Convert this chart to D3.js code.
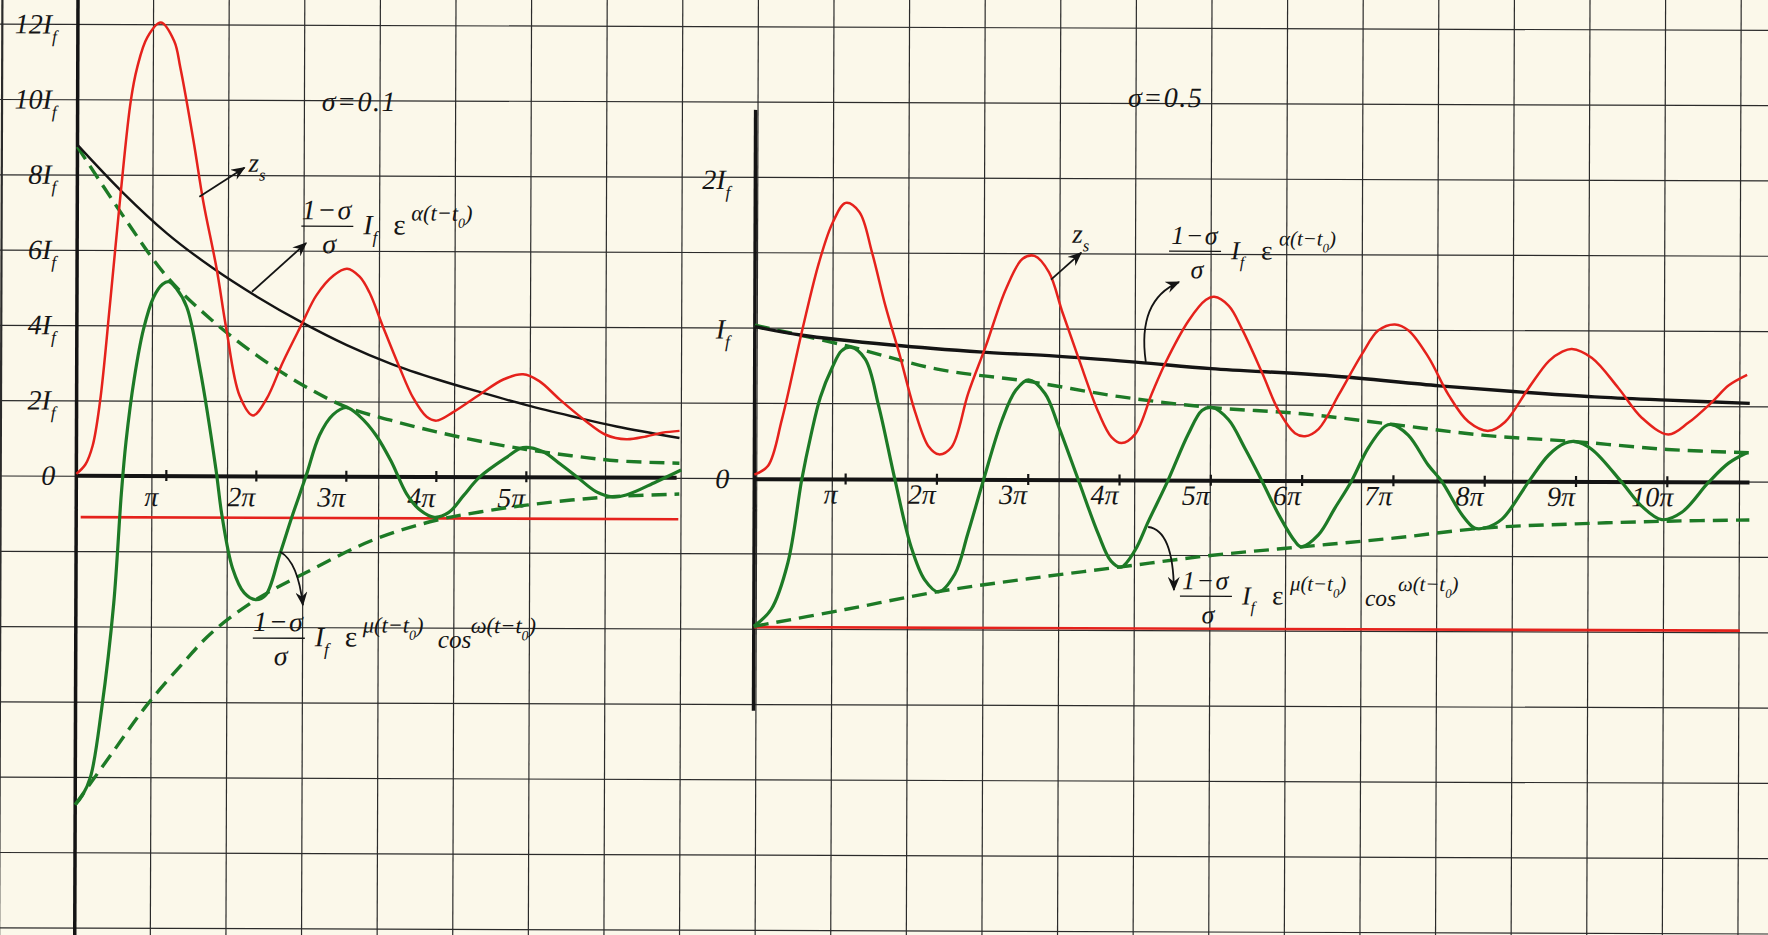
<!DOCTYPE html>
<html>
<head>
<meta charset="utf-8">
<script src="https://cdn.jsdelivr.net/npm/d3@7"></script>
<style>
  html, body { margin: 0; padding: 0; background: #fbf8ea; }
  svg { display: block; }
  .m { font-family: "Liberation Serif", "Times New Roman", serif; font-style: italic; fill: #151515; }
</style>
</head>
<body>
<div id="chart"></div>
<script>
const width = 1768;
const height = 935;

// x is t in units of pi, y in units of I_f

// sigma = 0.1 (left panel)
const leftRed = [[0,0.05],[0.1,0.3],[0.18,0.8],[0.26,1.97],[0.37,4.64],[0.48,7.48],[0.59,9.97],[0.66,10.86],
  [0.77,11.66],[0.92,12.06],[1.07,11.57],[1.14,10.86],[1.29,8.9],[1.4,7.3],[1.55,5.53],[1.66,3.93],[1.81,2.15],
  [1.96,1.62],[2.11,2.06],[2.29,3.04],[2.5,4.06],[2.66,4.82],[2.85,5.35],[3.0,5.53],[3.14,5.32],[3.25,4.9],
  [3.4,4.0],[3.58,2.95],[3.74,2.1],[3.89,1.6],[4.0,1.5],[4.18,1.72],[4.48,2.2],[4.74,2.6],[4.96,2.74],[5.14,2.56],
  [5.37,2.07],[5.66,1.5],[5.88,1.14],[6.11,1.02],[6.33,1.1],[6.51,1.2],[6.7,1.25]];
const leftBlack = [[0,8.8],[0.5,7.55],[1,6.45],[1.5,5.55],[2,4.78],[2.5,4.1],[3,3.5],[3.5,3.0],[4,2.6],
  [4.5,2.25],[5,1.92],[5.5,1.63],[6,1.36],[6.7,1.06]];
const leftEnvUp = [[0,8.75],[0.5,6.95],[1,5.3],[1.5,4.15],[2,3.22],[2.5,2.45],[3,1.85],[3.5,1.5],[4,1.2],
  [4.5,0.95],[5,0.74],[5.5,0.58],[6,0.45],[6.7,0.39]];
const leftEnvDown = [[0,-8.75],[0.4,-7.4],[0.79,-6.1],[1.2,-4.95],[1.51,-4.16],[2,-3.28],[2.55,-2.56],
  [3.3,-1.68],[4,-1.15],[4.5,-0.92],[5,-0.74],[5.5,-0.6],[6,-0.5],[6.7,-0.43]];
const leftGreen = [[0,-8.75],[0.08,-8.5],[0.17,-8.0],[0.29,-6.2],[0.42,-3.4],[0.5,-0.5],[0.55,0.9],[0.64,2.6],
  [0.74,3.9],[0.85,4.75],[0.95,5.1],[1.02,5.17],[1.1,5.0],[1.22,4.5],[1.37,2.85],[1.55,0.2],[1.62,-1.05],
  [1.74,-2.45],[1.87,-3.1],[2.0,-3.28],[2.11,-3.15],[2.26,-2.1],[2.4,-1.05],[2.55,0],[2.7,1.1],[2.85,1.65],
  [3.0,1.84],[3.15,1.6],[3.33,1.1],[3.5,0.4],[3.67,-0.45],[3.82,-0.88],[3.98,-1.07],[4.14,-0.94],[4.3,-0.5],
  [4.48,0.0],[4.78,0.53],[4.96,0.79],[5.18,0.69],[5.38,0.35],[5.56,0.02],[5.78,-0.38],[5.96,-0.51],
  [6.11,-0.46],[6.44,-0.11],[6.72,0.21]];
const leftBase = [[0.05,-1.1],[6.69,-1.1]];
const leftAxisEnd = 6.67;
const leftTicks = [1, 2, 3, 4, 5];
const leftTickLabels = ["π", "2π", "3π", "4π", "5π"];
const leftYTicks = [12, 10, 8, 6, 4, 2, 0];
const leftYLabels = ["12", "10", "8", "6", "4", "2", "0"];

// sigma = 0.5 (right panel)
const rightRed = [[0,0.03],[0.15,0.09],[0.3,0.4],[0.52,1.0],[0.7,1.45],[0.85,1.72],[0.99,1.85],[1.14,1.79],
  [1.28,1.52],[1.43,1.16],[1.58,0.85],[1.76,0.45],[1.91,0.22],[2.02,0.17],[2.16,0.22],[2.34,0.58],[2.53,0.895],
  [2.75,1.28],[2.93,1.48],[3.06,1.5],[3.22,1.39],[3.37,1.12],[3.55,0.81],[3.77,0.45],[3.91,0.29],[4.02,0.25],
  [4.17,0.31],[4.35,0.58],[4.5,0.79],[4.75,1.07],[4.94,1.21],[5.03,1.23],[5.19,1.17],[5.34,1.01],[5.56,0.72],
  [5.74,0.47],[5.92,0.32],[6.03,0.3],[6.18,0.35],[6.4,0.58],[6.65,0.85],[6.83,1.01],[7.01,1.05],[7.16,1.01],
  [7.38,0.83],[7.6,0.58],[7.82,0.4],[8.04,0.34],[8.22,0.4],[8.48,0.63],[8.7,0.81],[8.84,0.87],[8.95,0.89],
  [9.17,0.83],[9.46,0.63],[9.72,0.43],[10.01,0.32],[10.23,0.4],[10.49,0.54],[10.67,0.65],[10.87,0.72]];
const rightBlack = [[0,1.02],[0.5,0.965],[1.5,0.9],[2.5,0.855],[3.3,0.83],[4.2,0.79],[5,0.75],[6.3,0.705],
  [7.5,0.64],[8.4,0.6],[9.2,0.57],[10,0.55],[10.9,0.53]];
const rightEnvUp = [[0,1.03],[1,0.895],[2,0.74],[3,0.66],[4,0.56],[5,0.49],[6,0.45],[7,0.38],[8,0.31],
  [9,0.27],[10,0.22],[10.9,0.2]];
const rightEnvDown = [[0,-0.985],[1,-0.87],[2,-0.75],[3,-0.66],[4,-0.58],[5,-0.5],[6,-0.44],[7,-0.38],
  [8,-0.31],[9,-0.28],[10,-0.26],[10.9,-0.25]];
const rightGreen = [[0,-0.985],[0.19,-0.87],[0.37,-0.56],[0.52,0],[0.62,0.3],[0.72,0.55],[0.85,0.75],
  [0.95,0.86],[1.05,0.885],[1.21,0.805],[1.36,0.49],[1.54,0],[1.72,-0.45],[1.87,-0.67],[2.02,-0.75],[2.2,-0.63],
  [2.34,-0.36],[2.51,0],[2.71,0.4],[2.86,0.6],[3.0,0.67],[3.18,0.58],[3.33,0.36],[3.55,0],[3.77,-0.36],
  [3.91,-0.54],[4.02,-0.58],[4.17,-0.47],[4.32,-0.27],[4.53,0],[4.75,0.31],[4.9,0.47],[5.01,0.49],[5.19,0.41],
  [5.37,0.22],[5.56,0],[5.74,-0.22],[5.92,-0.4],[5.99,-0.44],[6.18,-0.36],[6.36,-0.18],[6.54,0],[6.72,0.22],
  [6.91,0.37],[6.98,0.38],[7.16,0.31],[7.38,0.11],[7.53,0],[7.75,-0.22],[7.89,-0.31],[8.0,-0.31],[8.19,-0.25],
  [8.48,0],[8.7,0.18],[8.88,0.26],[8.99,0.27],[9.17,0.22],[9.5,0],[9.72,-0.16],[9.94,-0.25],[10.16,-0.2],
  [10.45,0],[10.67,0.13],[10.87,0.2]];
const rightBase = [[0,-0.99],[10.8,-0.99]];
const rightAxisEnd = 10.9;
const rightTicks = [1, 2, 3, 4, 5, 6, 7, 8, 9, 10];
const rightTickLabels = ["π", "2π", "3π", "4π", "5π", "6π", "7π", "8π", "9π", "10π"];
const rightYTicks = [2, 1, 0];
const rightYLabels = ["2", "", "0"];

const red = "#e5221c";
const green = "#1d7a26";
const ink = "#141414";

const svg = d3.select("#chart").append("svg")
    .attr("width", width)
    .attr("height", height)
    .style("background", "#fbf8ea");

svg.append("defs").append("marker")
    .attr("id", "arrow")
    .attr("viewBox", "0 0 12 10")
    .attr("refX", 11).attr("refY", 5)
    .attr("markerWidth", 15).attr("markerHeight", 12)
    .attr("markerUnits", "userSpaceOnUse")
    .attr("orient", "auto")
  .append("path")
    .attr("d", "M0,0 L12,5 L0,10 L4,5 Z")
    .attr("fill", ink);

// the scanned sheet is turned a little
const root = svg.append("g").attr("transform", "rotate(0.2)");

// squared paper
const gx = d3.scaleLinear().domain([0, 1]).range([2.4, 78]);
const gy = d3.scaleLinear().domain([0, 1]).range([476, 551.3]);
root.append("g").selectAll("line").data(d3.range(0, 24)).join("line")
    .attr("x1", d => gx(d)).attr("x2", d => gx(d))
    .attr("y1", -10).attr("y2", height + 10)
    .attr("stroke", "#2b2b2b").attr("stroke-width", d => d === 0 ? 2.2 : 1.2);
root.append("g").selectAll("line").data(d3.range(-6, 7)).join("line")
    .attr("x1", -10).attr("x2", width + 10)
    .attr("y1", d => gy(d)).attr("y2", d => gy(d))
    .attr("stroke", "#2b2b2b").attr("stroke-width", 1.2);

const xL = d3.scaleLinear().domain([0, 1]).range([78, 168]);
const yL = d3.scaleLinear().domain([0, 1]).range([475.5, 437.9]);
const xR = d3.scaleLinear().domain([0, 1]).range([756, 847.3]);
const yR = d3.scaleLinear().domain([0, 1]).range([476.5, 327]);

function mathText(g, x, y, size, pieces, anchor) {
  const t = g.append("text").attr("class", "m")
      .attr("x", x).attr("y", y)
      .attr("font-size", size)
      .attr("text-anchor", anchor || "start");
  let shift = 0;
  pieces.forEach(p => {
    const target = p.sub ? size * 0.32 : 0;
    t.append("tspan")
        .attr("dy", target - shift)
        .attr("font-size", p.sub ? size * 0.62 : null)
        .attr("font-style", p.up ? "normal" : null)
        .text(p.s);
    shift = target;
  });
  return t;
}

function formula(g, bx, by, size, barW, withCos) {
  mathText(g, bx + barW / 2, by - 7, size, [{s: "1−σ"}], "middle").attr("letter-spacing", 1.5);
  g.append("line").attr("x1", bx).attr("x2", bx + barW).attr("y1", by).attr("y2", by)
      .attr("stroke", ink).attr("stroke-width", 1.3);
  mathText(g, bx + barW / 2 + 2, by + 27, size, [{s: "σ"}], "middle");
  mathText(g, bx + barW + 10, by + 8, size, [{s: "I"}, {s: "f", sub: true}]);
  mathText(g, bx + barW + 40, by + 8, size * 1.05, [{s: "ε", up: true}]);
  mathText(g, bx + barW + 58, by - 6, size * 0.8,
      [{s: withCos ? "μ(t−t" : "α(t−t"}, {s: "0", sub: true}, {s: ")"}]);
  if (withCos) {
    mathText(g, bx + barW + 133, by + 9, size * 0.9, [{s: "cos"}]);
    mathText(g, bx + barW + 166, by - 6, size * 0.8, [{s: "ω(t−t"}, {s: "0", sub: true}, {s: ")"}]);
  }
}

function arrow(g, pts, curved) {
  const path = curved
    ? `M${pts[0][0]},${pts[0][1]} Q${pts[1][0]},${pts[1][1]} ${pts[2][0]},${pts[2][1]}`
    : `M${pts[0][0]},${pts[0][1]} L${pts[1][0]},${pts[1][1]}`;
  g.append("path").attr("d", path).attr("fill", "none")
      .attr("stroke", ink).attr("stroke-width", 1.8)
      .attr("marker-end", "url(#arrow)");
}

function drawPanel(p) {
  const g = root.append("g");
  const line = d3.line().x(d => p.x(d[0])).y(d => p.y(d[1])).curve(d3.curveCatmullRom.alpha(0.5));

  // axes
  g.append("line")
      .attr("x1", p.x(0)).attr("x2", p.x(0))
      .attr("y1", p.axisTop).attr("y2", p.axisBottom)
      .attr("stroke", ink).attr("stroke-width", 3.5);
  g.append("line")
      .attr("x1", p.x(0)).attr("x2", p.x(p.axisEnd))
      .attr("y1", p.y(0)).attr("y2", p.y(0))
      .attr("stroke", ink).attr("stroke-width", 4);
  g.append("g").selectAll("line").data(p.ticks).join("line")
      .attr("x1", d => p.x(d)).attr("x2", d => p.x(d))
      .attr("y1", p.y(0) - 6).attr("y2", p.y(0) + 5)
      .attr("stroke", ink).attr("stroke-width", 2.2);
  p.ticks.forEach((d, i) => {
    mathText(g, p.x(d) - 15, p.y(0) + p.tickDy, 28, [{s: p.tickLabels[i]}], "middle");
  });
  p.yTicks.forEach((d, i) => {
    const pieces = d === 0 ? [{s: "0"}] : [{s: p.yLabels[i] + "I"}, {s: "f", sub: true}];
    mathText(g, p.x(0) - p.labelGap, p.y(d) + 9, 28, pieces, "end");
  });

  // curves
  g.append("path").datum(p.base).attr("d", line).attr("fill", "none")
      .attr("stroke", red).attr("stroke-width", 2.6);
  [p.envUp, p.envDown].forEach(s => {
    g.append("path").datum(s).attr("d", line).attr("fill", "none")
        .attr("stroke", green).attr("stroke-width", 3.4).attr("stroke-dasharray", "15 8");
  });
  g.append("path").datum(p.black).attr("d", line).attr("fill", "none")
      .attr("stroke", ink).attr("stroke-width", p.blackWidth);
  g.append("path").datum(p.green).attr("d", line).attr("fill", "none")
      .attr("stroke", green).attr("stroke-width", 3.2).attr("stroke-linejoin", "round");
  g.append("path").datum(p.red).attr("d", line).attr("fill", "none")
      .attr("stroke", red).attr("stroke-width", 2.5).attr("stroke-linejoin", "round");

  // labels
  mathText(g, p.x(p.sigmaAt[0]), p.y(p.sigmaAt[1]), 28, [{s: p.sigma}], "middle").attr("letter-spacing", 1.5);
  arrow(g, p.zsArrow.map(d => [p.x(d[0]), p.y(d[1])]), false);
  mathText(g, p.x(p.zsAt[0]), p.y(p.zsAt[1]), 27, [{s: "z"}, {s: "s", sub: true}]);
  formula(g, p.x(p.topFormula[0]), p.y(p.topFormula[1]), p.fontSize, 52, false);
  arrow(g, p.topArrow.map(d => [p.x(d[0]), p.y(d[1])]), p.topArrow.length === 3);
  formula(g, p.x(p.lowFormula[0]), p.y(p.lowFormula[1]), p.fontSize, 52, true);
  arrow(g, p.lowArrow.map(d => [p.x(d[0]), p.y(d[1])]), true);
}

drawPanel({
  x: xL, y: yL, axisTop: -5, axisBottom: height + 5, axisEnd: leftAxisEnd,
  ticks: leftTicks, tickLabels: leftTickLabels, tickDy: 30,
  yTicks: leftYTicks, yLabels: leftYLabels, labelGap: 21,
  red: leftRed, black: leftBlack, envUp: leftEnvUp, envDown: leftEnvDown, green: leftGreen, base: leftBase,
  blackWidth: 2.4, fontSize: 28,
  sigma: "σ=0.1", sigmaAt: [3.13, 9.73],
  zsArrow: [[1.356, 7.43], [1.856, 8.21]], zsAt: [1.9, 8.1],
  topFormula: [2.49, 6.66], topArrow: [[1.944, 4.91], [2.544, 6.21]],
  lowFormula: [1.967, -4.3], lowArrow: [[2.267, -2.0], [2.467, -2.27], [2.522, -3.42]]
});

drawPanel({
  x: xR, y: yR, axisTop: yR(2.47), axisBottom: yR(-1.55), axisEnd: rightAxisEnd,
  ticks: rightTicks, tickLabels: rightTickLabels, tickDy: 24,
  yTicks: rightYTicks, yLabels: rightYLabels, labelGap: 25,
  red: rightRed, black: rightBlack, envUp: rightEnvUp, envDown: rightEnvDown, green: rightGreen, base: rightBase,
  blackWidth: 3.4, fontSize: 26,
  sigma: "σ=0.5", sigmaAt: [4.49, 2.5],
  zsArrow: [[3.242, 1.341], [3.571, 1.522]], zsAt: [3.472, 1.589],
  topFormula: [4.534, 1.535], topArrow: [[4.283, 0.793], [4.184, 1.207], [4.644, 1.328]],
  lowFormula: [4.666, -0.773], lowArrow: [[4.315, -0.311], [4.589, -0.331], [4.6, -0.732]]
});
</script>
</body>
</html>
